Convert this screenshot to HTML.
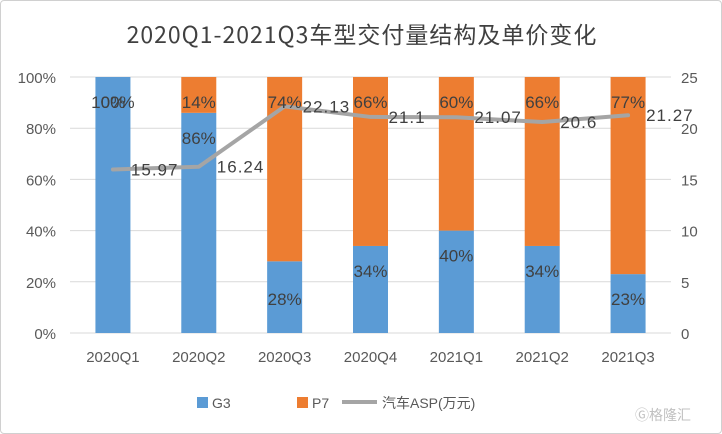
<!DOCTYPE html>
<html><head><meta charset="utf-8"><style>
body{margin:0;background:#fff}
#wrap{width:722px;height:434px;position:relative;box-sizing:border-box;border:1px solid #d0d0d0;border-radius:4px;overflow:hidden}
svg text{font-family:"Liberation Sans","Noto Sans CJK SC",sans-serif}
</style></head><body>
<div id="wrap">
<svg id="chart" width="722" height="434">
<text x="361" y="42" text-anchor="middle" font-size="23" fill="#404040" style="font-family:'Noto Sans CJK SC',sans-serif;letter-spacing:1px">2020Q1-2021Q3车型交付量结构及单价变化</text>
<g id="grid"></g><g id="bars"></g><g id="line"></g><g id="labels"></g>
<g>
<rect x="196" y="396" width="11" height="11" fill="#5B9BD5"/>
<text x="211" y="407" font-size="14" fill="#595959">G3</text>
<rect x="296" y="396" width="11" height="11" fill="#ED7D31"/>
<text x="311" y="407" font-size="14" fill="#595959">P7</text>
<line x1="341" y1="401" x2="376" y2="401" stroke="#A5A5A5" stroke-width="4"/>
<text x="381" y="407" font-size="14" fill="#595959">汽车ASP(万元)</text>
</g>
<text x="690" y="419" font-size="14" fill="#c0c0c0" text-anchor="end">Ⓖ格隆汇</text>
</svg></div>
<script>
const categories=["2020Q1","2020Q2","2020Q3","2020Q4","2021Q1","2021Q2","2021Q3"];
const g3Values=[100,86,28,34,40,34,23];
const p7Values=[0,14,74,66,60,66,77];
const aspValues=[15.97,16.24,22.13,21.1,21.07,20.6,21.27];
const leftTicks=[0,20,40,60,80,100];
const rightTicks=[0,5,10,15,20,25];
const NS="http://www.w3.org/2000/svg";
const X0=69,X1=670,Y0=332,Y1=76;
const band=(X1-X0)/categories.length;
const xc=i=>X0+band*(i+0.5);
const yL=v=>Y0-(v/100)*(Y0-Y1);
const yR=v=>Y0-(v/25)*(Y0-Y1);
function mk(tag,attrs,parent,txt){const e=document.createElementNS(NS,tag);for(const k in attrs)e.setAttribute(k,attrs[k]);if(txt!==undefined)e.textContent=txt;parent.appendChild(e);return e;}
const grid=document.getElementById('grid'),bars=document.getElementById('bars'),line=document.getElementById('line'),labels=document.getElementById('labels');
const mono='"Liberation Mono","Noto Sans CJK SC",monospace';
leftTicks.forEach(t=>{
 const l=mk('line',{x1:X0,x2:X1,y1:yL(t),y2:yL(t),stroke:'#d9d9d9','stroke-width':1},grid);
 
 
 const tx=mk('text',{x:55,y:yL(t)+6,'text-anchor':'end','font-size':15,fill:'#595959'},grid,t+'%');
 
 
});
rightTicks.forEach(t=>{
 const tx=mk('text',{x:680,y:yR(t)+6,'font-size':15,fill:'#595959'},grid,String(t));
 
 
});
const bw=35;
categories.forEach((c,i)=>{
 const x=xc(i)-bw/2;
 const gTop=yL(g3Values[i]);
 const r1=mk('rect',{x:x,y:gTop,width:bw,height:Y0-gTop,fill:'#5B9BD5'},bars);
 
 
 const pTop=yL(Math.min(100,g3Values[i]+p7Values[i]));
 if(p7Values[i]>0){
  const r2=mk('rect',{x:x,y:pTop,width:bw,height:gTop-pTop,fill:'#ED7D31'},bars);
  
  
 }
 const xl=mk('text',{x:xc(i),y:361,'text-anchor':'middle','font-size':15,fill:'#595959'},grid,c);
 
 
 let gy=gTop+31;
 if(g3Values[i]<30) gy=Math.max(gTop+31,Y0-28);
 const gl=mk('text',{x:xc(i),y:gy,'text-anchor':'middle','font-size':17,fill:'#404040','font-family':mono},labels,g3Values[i]+'%');
 
 
 const pl=mk('text',{x:xc(i),y:pTop+31,'text-anchor':'middle','font-size':17,fill:'#404040','font-family':mono},labels,p7Values[i]+'%');
 
 
 const al=mk('text',{x:xc(i)+18,y:yR(aspValues[i])+6,'font-size':17,fill:'#404040','font-family':mono,'letter-spacing':'1'},labels,String(aspValues[i]));
 
 
});
const pts=aspValues.map((v,i)=>xc(i)+','+yR(v)).join(' ');
const pl=mk('polyline',{points:pts,fill:'none',stroke:'#A5A5A5','stroke-width':4,'stroke-linejoin':'round','stroke-linecap':'round'},line);


</script>
</body></html>
